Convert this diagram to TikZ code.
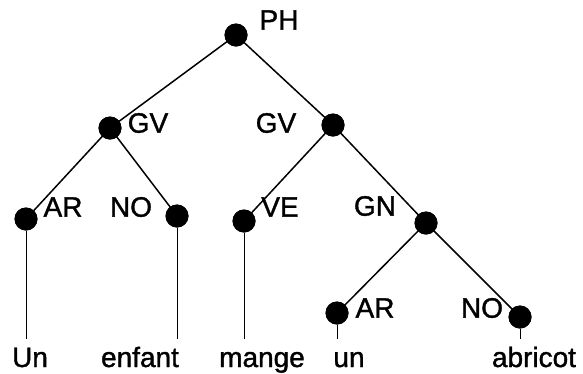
\documentclass[tikz,border=0pt]{standalone}
\usepackage{fontspec}
\setmainfont{Liberation Sans}[RawFeature={embolden=1.3}]
\usepackage{tikz}

\begin{document}
\begin{tikzpicture}[x=1pt,y=-1pt,
    bullet/.style={circle,fill=black,inner sep=0pt,minimum size=23pt},
    lbl/.style={inner sep=0pt,font=\fontsize{28}{30}\selectfont},
    word/.style={anchor=base,inner sep=8pt,text height=20pt,text depth=6pt,font=\fontsize{28}{30}\selectfont},
    branch/.style={line width=1.5pt},
    stem/.style={line width=1pt}]
    \useasboundingbox (0,0) rectangle (583,373);

    % Nodes of the tree
    \node[bullet] (PH) at (236,35) {};
    \node[bullet] (GV1) at (110,128) {};
    \node[bullet] (GV2) at (333,125) {};
    \node[bullet] (AR1) at (26,219) {};
    \node[bullet] (NO1) at (177,216) {};
    \node[bullet] (VE) at (244,221) {};
    \node[bullet] (GN) at (426,223) {};
    \node[bullet] (AR2) at (337,313) {};
    \node[bullet] (NO2) at (520,317) {};

    % Category labels next to the nodes
    \node[lbl] (lPH) at (279,20) {PH};
    \node[lbl] (lGV1) at (148,123) {GV};
    \node[lbl] (lGV2) at (276,123) {GV};
    \node[lbl] (lAR1) at (63,207) {AR};
    \node[lbl] (lNO1) at (131,207) {NO};
    \node[lbl] (lVE) at (280,207) {VE};
    \node[lbl] (lGN) at (375,206) {GN};
    \node[lbl] (lAR2) at (375,308) {AR};
    \node[lbl] (lNO2) at (482,308) {NO};

    % The words of the sentence
    \node[word] (un1) at (30,367) {Un};
    \node[word] (enfant) at (140,367) {enfant};
    \node[word] (mange) at (262,367) {mange};
    \node[word] (un2) at (349,367) {un};
    \node[word] (abricot) at (534,367) {abricot};

    % Branches
    \draw[branch] (PH.center) -- (GV1.center);
    \draw[branch] (PH.center) -- (GV2.center);
    \draw[branch] (GV1.center) -- (AR1.center);
    \draw[branch] (GV1.center) -- (NO1.center);
    \draw[branch] (GV2.center) -- (VE.center);
    \draw[branch] (GV2.center) -- (GN.center);
    \draw[branch] (GN.center) -- (AR2.center);
    \draw[branch] (GN.center) -- (NO2.center);

    % Stems down to the words
    \draw[stem] (AR1) -- (AR1 |- un1.north);
    \draw[stem] (NO1) -- (NO1 |- enfant.north);
    \draw[stem] (VE) -- (VE |- mange.north);
    \draw[stem] (AR2) -- (AR2 |- un2.north);
    \draw[stem] (NO2) -- (NO2 |- abricot.north);

    % Redraw the dots on top of the lines
    \foreach \n in {PH,GV1,GV2,AR1,NO1,VE,GN,AR2,NO2}
        \fill (\n) circle (11.5pt);

\end{tikzpicture}
\end{document}
